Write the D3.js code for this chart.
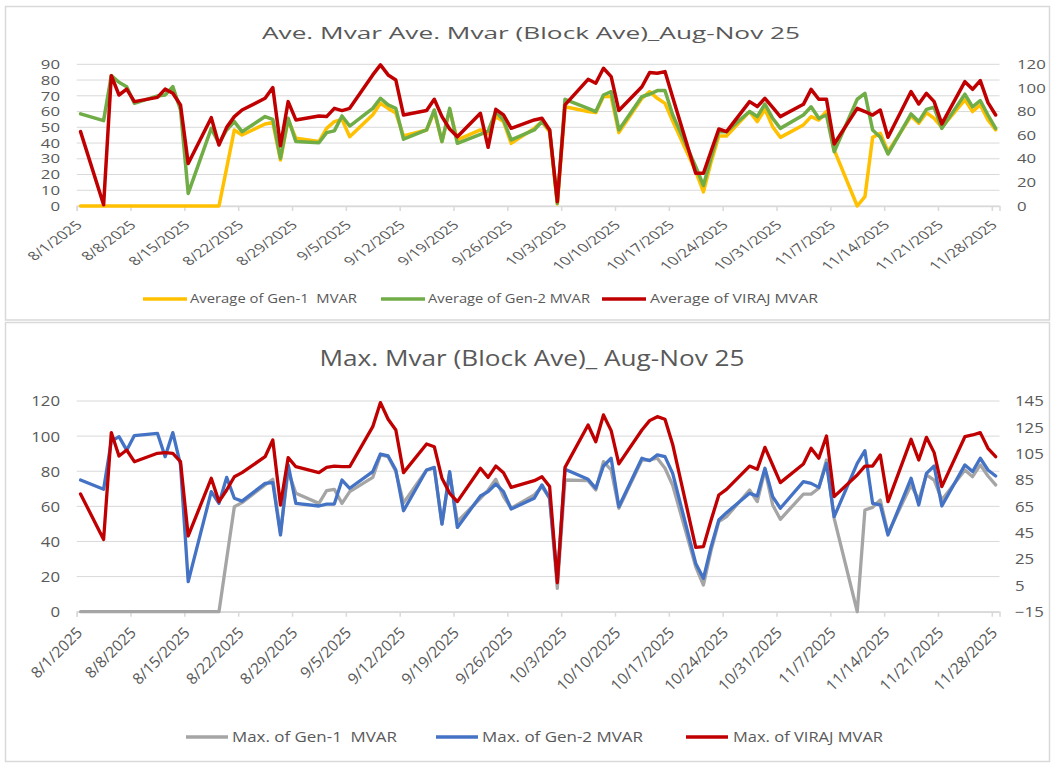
<!DOCTYPE html>
<html>
<head>
<meta charset="utf-8">
<script src="https://cdn.jsdelivr.net/npm/d3@7/dist/d3.min.js"></script>
<style>
body { margin: 0; background: #fff; }
text { font-family: "Open Sans", "Noto Sans", sans-serif; fill: #595959; white-space: pre; }
</style>
</head>
<body>
<div id="chart-area"></div>
<script>
/* Block ave Mvar, two stacked panels */

// working days 8/1/2025 - 11/28/2025
var dates = [
    "2025-08-01", "2025-08-04", "2025-08-05", "2025-08-06", "2025-08-07", "2025-08-08",
    "2025-08-11", "2025-08-12", "2025-08-13", "2025-08-14", "2025-08-15",
    "2025-08-18", "2025-08-19", "2025-08-20", "2025-08-21", "2025-08-22",
    "2025-08-25", "2025-08-26", "2025-08-27", "2025-08-28", "2025-08-29",
    "2025-09-01", "2025-09-02", "2025-09-03", "2025-09-04", "2025-09-05",
    "2025-09-08", "2025-09-09", "2025-09-10", "2025-09-11", "2025-09-12",
    "2025-09-15", "2025-09-16", "2025-09-17", "2025-09-18", "2025-09-19",
    "2025-09-22", "2025-09-23", "2025-09-24", "2025-09-25", "2025-09-26",
    "2025-09-29", "2025-09-30", "2025-10-01", "2025-10-02", "2025-10-03",
    "2025-10-06", "2025-10-07", "2025-10-08", "2025-10-09", "2025-10-10",
    "2025-10-13", "2025-10-14", "2025-10-15", "2025-10-16", "2025-10-17",
    "2025-10-20", "2025-10-21", "2025-10-22", "2025-10-23", "2025-10-24",
    "2025-10-27", "2025-10-28", "2025-10-29", "2025-10-30", "2025-10-31",
    "2025-11-03", "2025-11-04", "2025-11-05", "2025-11-06", "2025-11-07",
    "2025-11-10", "2025-11-11", "2025-11-12", "2025-11-13", "2025-11-14",
    "2025-11-17", "2025-11-18", "2025-11-19", "2025-11-20", "2025-11-21",
    "2025-11-24", "2025-11-25", "2025-11-26", "2025-11-27", "2025-11-28"
];

// top panel: averages
var gen1Avg = [
    0, 0, 0, 0, 0, 0, 0, 0, 0, 0, 0, 0, 0, 24, 48.3, 45.1, 52.1, 53, 29.2, 54.6, 43,
    40.9, 49.3, 53.6, 55, 44, 58, 65.2, 62, 59, 44.5, 48.3, 60, 41, 61, 42,
    48.3, 46, 56.8, 53.6, 39.8, 49.3, 53.6,
    47, 1.3, 63, 60, 59.3, 69.5, 69.5, 46.6, 68.4, 72.6, 68.4, 65.2, 54,
    22, 9, 28, 44.5, 44.5, 60, 53.6, 61.4, 50.4, 43.6,
    51.5, 56.8, 54.6, 60, 35.6, 0, 5.9, 43.6, 46.2, 34.5,
    57.2, 52.5, 59.3, 55.7, 50, 67.4, 60, 64.2, 54.6, 48.3
];
var gen2Avg = [
    58.5, 54.2, 82.8, 78.6, 75.8, 65.2, 69.9, 70.5, 75.8, 61, 8, 49.3, 39.8, 48.3, 53.6, 47.2,
    56.8, 55, 30.3, 55.7, 40.9,
    40.2, 46.6, 47.7, 57.2, 50.8, 62, 68.4, 64.2, 62, 42.4, 48.3, 61, 40.9, 62, 39.8,
    45.5, 47.5, 60, 54.6, 42, 48.3, 53.6,
    48.3, 1.7, 67.8, 62, 60, 70.5, 72.6, 48.3, 69.5, 71, 73.3, 73.3, 58,
    25, 13, 31, 47.2, 47.2, 60, 56.8, 64.8, 55.7, 49.3,
    57.8, 63, 55.7, 57.8, 34.5, 67.8, 71.6, 48.3, 43.6, 33,
    58.5, 53.6, 61.4, 62.7, 49.3, 71, 63, 67, 57.8, 49.3
];
var virajAvg = [
    63, 1, 110.4, 94, 99, 88.4, 92, 99, 95.5, 85.6, 36, 74.8, 51.7, 66.6, 75.7, 81.3,
    91.2, 100.3, 51, 88.4, 72.9,
    76.2, 75.7, 82.7, 80.8, 82.7, 111, 119.5, 111, 106.7, 77, 80.8, 90.4, 75.7, 65.2, 58.7,
    78.5, 49.7, 81.9, 77.1, 65.8, 72.9, 74.3,
    64.4, 3.7, 85.6, 107.3, 104, 116.6, 109.6, 80.8, 101, 113, 112.4, 113.8, 92,
    27.7, 27.7, 46.6, 65.2, 63, 88.4, 84.2, 91.2, 83.6, 75.7,
    86.1, 98.8, 90.4, 90.4, 52.5, 82.7, 80, 77, 81.3, 58.2,
    96.9, 86.4, 95.4, 88.4, 69.5, 105.3, 98.8, 106.2, 87.5, 77.1
];

// bottom panel: maxima
var gen1Max = [
    0, 0, 0, 0, 0, 0, 0, 0, 0, 0, 0, 0, 0, 30, 59.8, 62.1, 72.2, 75.4, 45, 80, 67.4,
    61.7, 68.9, 69.7, 61.7, 68.4, 76.5, 89.3, 88.3, 79.8, 62, 80.7, 81.7, 50, 78.8, 51.3,
    64.6, 69.3, 75.4, 65.5, 58.9, 66.5, 71.2,
    64.6, 13.3, 75, 74.6, 69.3, 85.5, 80.7, 58.9, 86.4, 86.4, 87.4, 81.7, 72,
    25.6, 15.2, 35, 51.3, 54.1, 69.3, 62.7, 80.7, 60.8, 52.6,
    67, 67, 70.3, 86.4, 53.2, 0, 57.9, 59.4, 63.6, 44.6,
    72.2, 63.6, 77.9, 75, 63.6, 80.7, 76.9, 83.6, 77.3, 72.2
];
var gen2Max = [
    75, 69.7, 97, 99.7, 92, 100.3, 101.6, 88.3, 102, 83.6, 17.1, 68.4, 61.7, 76.5, 64.6, 63,
    73.1, 73.5, 43.7, 83.6, 61.7,
    60.2, 61.3, 61.3, 75, 70.3, 79.8, 89.8, 88.7, 80.7, 57.5, 80.7, 82.2, 49.9, 79.8, 48,
    65.9, 68.4, 72.7, 68.4, 58.5, 64.6, 72.2,
    64.6, 18, 81.1, 75.4, 70.3, 83, 87.4, 59.8, 87.4, 86, 89.3, 88.3, 78.8,
    27.5, 19, 37, 52.2, 56.4, 67.4, 65.9, 81.7, 65.5, 58.9,
    74.1, 73.1, 70.8, 84.5, 54.1, 84.5, 91.7, 61.7, 60.8, 43.7,
    76, 60.8, 78.8, 83, 60.2, 83.6, 79.8, 87.4, 80.7, 77.3
];
var virajMax = [
    74.4, 39.9, 121, 103.2, 107.8, 98.9, 105.3, 105.8, 105.3, 98.9, 42.5, 86.3, 68.6, 77.4, 87.5, 90.6,
    102.7, 115.4, 66, 102, 95.1,
    90.6, 94.6, 95.6, 95.1, 95.1, 125.5, 143.8, 131.1, 123, 90.6, 112.4, 110.3, 86.3, 74.9, 68.6,
    93.9, 87, 95.6, 90.6, 79.4, 84.5, 87.5,
    80, 7, 94.6, 126.8, 114.1, 134.4, 122.5, 97.2, 123, 130.1, 133.1, 131.1, 112,
    33.9, 34.4, 54.6, 73.6, 77.9, 95.6, 93.1, 109.8, 96.4, 83,
    97.2, 109.1, 101.5, 118.4, 72.4, 88.8, 95.6, 95.6, 104, 68.6,
    115.9, 100.2, 117.4, 105.8, 80, 117.9, 119.2, 121, 109.1, 102.7
];

var tickLabels = [
    "8/1/2025", "8/8/2025", "8/15/2025", "8/22/2025", "8/29/2025", "9/5/2025",
    "9/12/2025", "9/19/2025", "9/26/2025", "10/3/2025", "10/10/2025", "10/17/2025",
    "10/24/2025", "10/31/2025", "11/7/2025", "11/14/2025", "11/21/2025", "11/28/2025"
];
var topLeftTicks = [0, 10, 20, 30, 40, 50, 60, 70, 80, 90];
var topRightTicks = [0, 20, 40, 60, 80, 100, 120];
var botLeftTicks = [0, 20, 40, 60, 80, 100, 120];
var botRightTicks = [-15, 5, 25, 45, 65, 85, 105, 125, 145];

var parseDay = d3.timeParse("%Y-%m-%d");
var parseTick = d3.timeParse("%m/%d/%Y");
var days = dates.map(parseDay);
var tickDates = tickLabels.map(parseTick);

var svg = d3.select("#chart-area")
    .append("svg")
    .attr("width", 1052)
    .attr("height", 765);

// panel frames
svg.append("rect").attr("x", 5.5).attr("y", 6.5).attr("width", 1044).attr("height", 313.5)
    .attr("fill", "none").attr("stroke", "#d9d9d9").attr("stroke-width", 1.5);
svg.append("rect").attr("x", 5.5).attr("y", 322.5).attr("width", 1044).attr("height", 439)
    .attr("fill", "none").attr("stroke", "#d9d9d9").attr("stroke-width", 1.5);

// date axis, points sit mid-day
var x = d3.scaleTime()
    .domain([new Date(2025, 7, 1), new Date(2025, 10, 29)])
    .range([76.7, 999.5]);

function px(d) {
    return x(d3.timeHour.offset(d, 12));
}

function drawPanel(p) {
    var g = svg.append("g");
    var yL = d3.scaleLinear().domain(p.leftDomain).range([p.y0, p.y1]);
    var yR = d3.scaleLinear().domain(p.rightDomain).range([p.y0, p.y1]);

    g.selectAll(".grid")
        .data(p.leftTicks)
        .enter()
        .append("line")
        .attr("x1", x.range()[0])
        .attr("x2", x.range()[1])
        .attr("y1", function(d) { return yL(d); })
        .attr("y2", function(d) { return yL(d); })
        .attr("stroke", "#d9d9d9")
        .attr("stroke-width", 1);

    var xAxis = g.append("g")
        .attr("transform", "translate(0," + p.y0 + ")")
        .call(d3.axisBottom(x)
            .tickValues(tickDates)
            .tickSize(5)
            .tickFormat(function(d, i) { return tickLabels[i]; }));
    xAxis.select(".domain").attr("stroke", "#d9d9d9").attr("stroke-width", 1.5);
    xAxis.selectAll(".tick line").attr("stroke", "#d9d9d9").attr("stroke-width", 1.5);
    xAxis.selectAll(".tick text")
        .attr("x", null).attr("y", null).attr("dy", null)
        .attr("text-anchor", "end")
        .style("font-size", p.xFont + "px")
        .attr("fill", "#595959")
        .attr("transform", "translate(" + p.xLabDx + "," + p.xLabDy + ") scale(" + p.xStretch + ",1) rotate(-45)");
    xAxis.attr("font-family", null);

    var lAxis = g.append("g")
        .attr("transform", "translate(" + x.range()[0] + ",0)")
        .call(d3.axisLeft(yL).tickValues(p.leftTicks).tickSize(0));
    lAxis.select(".domain").remove();
    lAxis.selectAll(".tick text")
        .attr("x", null)
        .attr("dy", "0.35em")
        .style("font-size", p.yFont + "px")
        .attr("fill", "#595959")
        .attr("transform", "translate(" + (-p.leftPad) + ",0) scale(" + p.yStretch + ",1)");
    lAxis.attr("font-family", null);

    var rAxis = g.append("g")
        .attr("transform", "translate(" + x.range()[1] + ",0)")
        .call(d3.axisRight(yR).tickValues(p.rightTicks).tickSize(0));
    rAxis.select(".domain").remove();
    rAxis.selectAll(".tick text")
        .attr("x", null)
        .attr("dy", "0.35em")
        .style("font-size", p.yFont + "px")
        .attr("fill", "#595959")
        .attr("transform", "translate(" + p.rightPad + ",0) scale(" + p.yStretch + ",1)");
    rAxis.attr("font-family", null);

    p.series.forEach(function(s) {
        var yS = s.axis === "right" ? yR : yL;
        var line = d3.line()
            .x(function(d, i) { return px(days[i]); })
            .y(function(d) { return yS(d); });
        g.append("path")
            .datum(s.values)
            .attr("d", line)
            .attr("fill", "none")
            .attr("stroke", s.color)
            .attr("stroke-width", p.lineWidth)
            .attr("stroke-linejoin", "round")
            .attr("stroke-linecap", "round");
    });

    g.append("text")
        .attr("x", p.titleX)
        .attr("y", p.titleY)
        .attr("text-anchor", "middle")
        .attr("textLength", p.titleW)
        .attr("lengthAdjust", "spacingAndGlyphs")
        .style("font-size", p.titleFont + "px")
        .text(p.title);

    p.series.forEach(function(s, i) {
        var lg = p.legend[i];
        g.append("line")
            .attr("x1", lg.x1).attr("x2", lg.x2)
            .attr("y1", p.legendY).attr("y2", p.legendY)
            .attr("stroke", s.color)
            .attr("stroke-width", p.lineWidth);
        g.append("text")
            .attr("x", lg.tx)
            .attr("y", p.legendY)
            .attr("dy", "0.35em")
            .attr("textLength", lg.tw)
            .attr("lengthAdjust", "spacingAndGlyphs")
            .style("font-size", p.legendFont + "px")
            .text(s.name);
    });
}

drawPanel({
    y0: 206, y1: 64.3,
    leftDomain: [0, 90], rightDomain: [0, 120],
    leftTicks: topLeftTicks, rightTicks: topRightTicks,
    xFont: 12, xStretch: 1.38, xLabDx: 6, xLabDy: 20,
    yFont: 12, yStretch: 1.4, leftPad: 16.7, rightPad: 17.5,
    lineWidth: 3.5,
    title: "Ave. Mvar Ave. Mvar (Block Ave)_Aug-Nov 25",
    titleX: 531, titleY: 39, titleW: 538, titleFont: 16.5,
    legendY: 299, legendFont: 12.5,
    legend: [
        { x1: 143, x2: 187, tx: 190, tw: 167 },
        { x1: 381, x2: 425, tx: 428, tw: 162 },
        { x1: 602, x2: 646, tx: 650, tw: 168 }
    ],
    series: [
        { name: "Average of Gen-1  MVAR", values: gen1Avg, color: "#ffc000", axis: "left" },
        { name: "Average of Gen-2 MVAR", values: gen2Avg, color: "#70ad47", axis: "left" },
        { name: "Average of VIRAJ MVAR", values: virajAvg, color: "#c00000", axis: "right" }
    ]
});

drawPanel({
    y0: 611.7, y1: 401,
    leftDomain: [0, 120], rightDomain: [-15, 145],
    leftTicks: botLeftTicks, rightTicks: botRightTicks,
    xFont: 15.5, xStretch: 1, xLabDx: 6, xLabDy: 22,
    yFont: 14, yStretch: 1.2, leftPad: 16.7, rightPad: 15.5,
    lineWidth: 3.3,
    title: "Max. Mvar (Block Ave)_ Aug-Nov 25",
    titleX: 532, titleY: 366, titleW: 425, titleFont: 22,
    legendY: 737, legendFont: 14.5,
    legend: [
        { x1: 186, x2: 228, tx: 232, tw: 165 },
        { x1: 436, x2: 478, tx: 482, tw: 161 },
        { x1: 686, x2: 728, tx: 733, tw: 150 }
    ],
    series: [
        { name: "Max. of Gen-1  MVAR", values: gen1Max, color: "#a5a5a5", axis: "left" },
        { name: "Max. of Gen-2 MVAR", values: gen2Max, color: "#4472c4", axis: "left" },
        { name: "Max. of VIRAJ MVAR", values: virajMax, color: "#c00000", axis: "right" }
    ]
});
</script>
</body>
</html>
